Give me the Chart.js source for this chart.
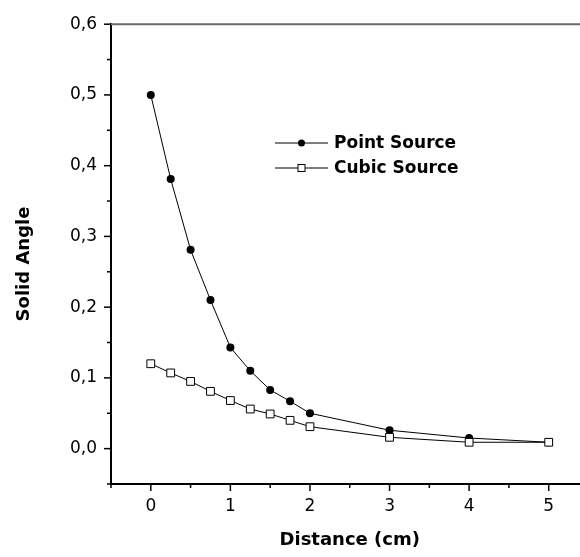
<!DOCTYPE html>
<html>
<head>
<meta charset="utf-8">
<script src="https://cdn.jsdelivr.net/npm/chart.js@4"></script>
<style>
  html, body { margin: 0; padding: 0; background: #fff; overflow: hidden; }
</style>
</head>
<body>
<!-- a little wider than the window: the original axis runs past the right edge -->
<canvas id="solid-angle" width="595" height="557"></canvas>
<script>
// values
const distances = [0, 0.25, 0.5, 0.75, 1, 1.25, 1.5, 1.75, 2, 3, 4, 5];
const pointSource = [0.5, 0.381, 0.281, 0.21, 0.143, 0.11, 0.083, 0.067, 0.05, 0.026, 0.015, 0.009];
const cubicSource = [0.12, 0.107, 0.095, 0.081, 0.068, 0.056, 0.049, 0.04, 0.031, 0.016, 0.009, 0.009];

const xTickValues = [0, 1, 2, 3, 4, 5];
const xTickLabels = ['0', '1', '2', '3', '4', '5'];
const yTickValues = [0, 0.1, 0.2, 0.3, 0.4, 0.5, 0.6];
const yTickLabels = ['0,0', '0,1', '0,2', '0,3', '0,4', '0,5', '0,6'];

const seriesNames = ['Point Source', 'Cubic Source'];
const yTitle = 'Solid Angle';

const near = (a, b) => Math.abs(a - b) < 1e-6;

function labelFor(values, labels, v) {
  let i = values.findIndex(t => near(t, v));
  return i >= 0 ? labels[i] : '';
}

// minor/major tick marks, top frame line, y title, legend
const extras = {
  id: 'extras',
  afterDraw(chart) {
    let ctx = chart.ctx;
    let area = chart.chartArea;
    let xs = chart.scales.x, ys = chart.scales.y;
    ctx.save();

    // top frame line
    ctx.strokeStyle = '#6b6b6b';
    ctx.lineWidth = 2;
    ctx.beginPath();
    ctx.moveTo(area.left, ys.getPixelForValue(0.6));
    ctx.lineTo(area.right, ys.getPixelForValue(0.6));
    ctx.stroke();

    ctx.strokeStyle = '#000';
    ctx.lineWidth = 1.5;
    xs.ticks.forEach(t => {
      if (!near(t.value * 2, Math.round(t.value * 2))) return;
      let len = labelFor(xTickValues, xTickLabels, t.value) ? 7 : 4;
      let px = xs.getPixelForValue(t.value);
      ctx.beginPath();
      ctx.moveTo(px, area.bottom);
      ctx.lineTo(px, area.bottom + len);
      ctx.stroke();
    });
    ys.ticks.forEach(t => {
      if (!near(t.value * 20, Math.round(t.value * 20))) return;
      let len = labelFor(yTickValues, yTickLabels, t.value) ? 7 : 4;
      let py = ys.getPixelForValue(t.value);
      ctx.beginPath();
      ctx.moveTo(area.left, py);
      ctx.lineTo(area.left - len, py);
      ctx.stroke();
    });

    // y axis title
    ctx.save();
    ctx.translate(24, 264);
    ctx.rotate(-Math.PI / 2);
    ctx.font = 'bold 18px "DejaVu Sans"';
    ctx.fillStyle = '#000';
    ctx.textAlign = 'center';
    ctx.textBaseline = 'middle';
    ctx.fillText(yTitle, 0, 0);
    ctx.restore();

    // legend
    let rows = [
      { name: seriesNames[0], y: 143, style: 'dot' },
      { name: seriesNames[1], y: 168, style: 'square' }
    ];
    ctx.font = 'bold 17px "DejaVu Sans"';
    ctx.textBaseline = 'middle';
    ctx.textAlign = 'left';
    rows.forEach(r => {
      ctx.strokeStyle = '#000';
      ctx.lineWidth = 1;
      ctx.beginPath();
      ctx.moveTo(275, r.y);
      ctx.lineTo(328, r.y);
      ctx.stroke();
      if (r.style === 'dot') {
        ctx.fillStyle = '#000';
        ctx.beginPath();
        ctx.arc(301.5, r.y, 3.5, 0, Math.PI * 2);
        ctx.fill();
      } else {
        ctx.fillStyle = '#fff';
        ctx.fillRect(298, r.y - 3.5, 7, 7);
        ctx.strokeRect(298, r.y - 3.5, 7, 7);
      }
      ctx.fillStyle = '#000';
      ctx.fillText(r.name, 334, r.y + 1);
    });
    ctx.restore();
  }
};

let ctx = document.getElementById('solid-angle').getContext('2d');

let chart = new Chart(ctx, {
  type: 'scatter',
  data: {
    datasets: [
      {
        label: seriesNames[1],
        data: distances.map((d, i) => ({ x: d, y: cubicSource[i] })),
        showLine: true,
        borderColor: '#000',
        borderWidth: 1,
        pointStyle: 'rect',
        pointRadius: 5.5,
        pointBackgroundColor: '#fff',
        pointBorderColor: '#000',
        pointBorderWidth: 1
      },
      {
        label: seriesNames[0],
        data: distances.map((d, i) => ({ x: d, y: pointSource[i] })),
        showLine: true,
        borderColor: '#000',
        borderWidth: 1,
        pointStyle: 'circle',
        pointRadius: 4,
        pointBackgroundColor: '#000',
        pointBorderColor: '#000',
        pointBorderWidth: 0
      }
    ]
  },
  options: {
    responsive: false,
    animation: false,
    layout: { padding: { top: 21, right: 2, left: 0, bottom: 0 } },
    plugins: {
      legend: { display: false },
      tooltip: { enabled: false }
    },
    scales: {
      x: {
        type: 'linear',
        min: -0.5,
        max: 5.5,
        afterFit: s => { s.height = 73; s.paddingRight = 0; s.paddingLeft = 0; },
        border: { color: '#000', width: 2 },
        grid: { display: false, drawTicks: false },
        ticks: {
          stepSize: 0.5,
          padding: 12,
          color: '#000',
          font: { family: 'DejaVu Sans', size: 17 },
          autoSkip: false,
          maxRotation: 0,
          callback: v => labelFor(xTickValues, xTickLabels, v)
        },
        title: {
          display: true,
          text: 'Distance (cm)',
          color: '#000',
          font: { family: 'DejaVu Sans', size: 18, weight: 'bold' },
          padding: { top: 0, bottom: 6 }
        }
      },
      y: {
        type: 'linear',
        min: -0.05,
        max: 0.6,
        afterFit: s => { s.width = 111; },
        border: { color: '#000', width: 2 },
        grid: { display: false, drawTicks: false },
        ticks: {
          stepSize: 0.05,
          padding: 14,
          color: '#000',
          font: { family: 'DejaVu Sans', size: 17 },
          autoSkip: false,
          callback: v => labelFor(yTickValues, yTickLabels, v)
        },
        title: { display: false }
      }
    }
  },
  plugins: [extras]
});
</script>
</body>
</html>
